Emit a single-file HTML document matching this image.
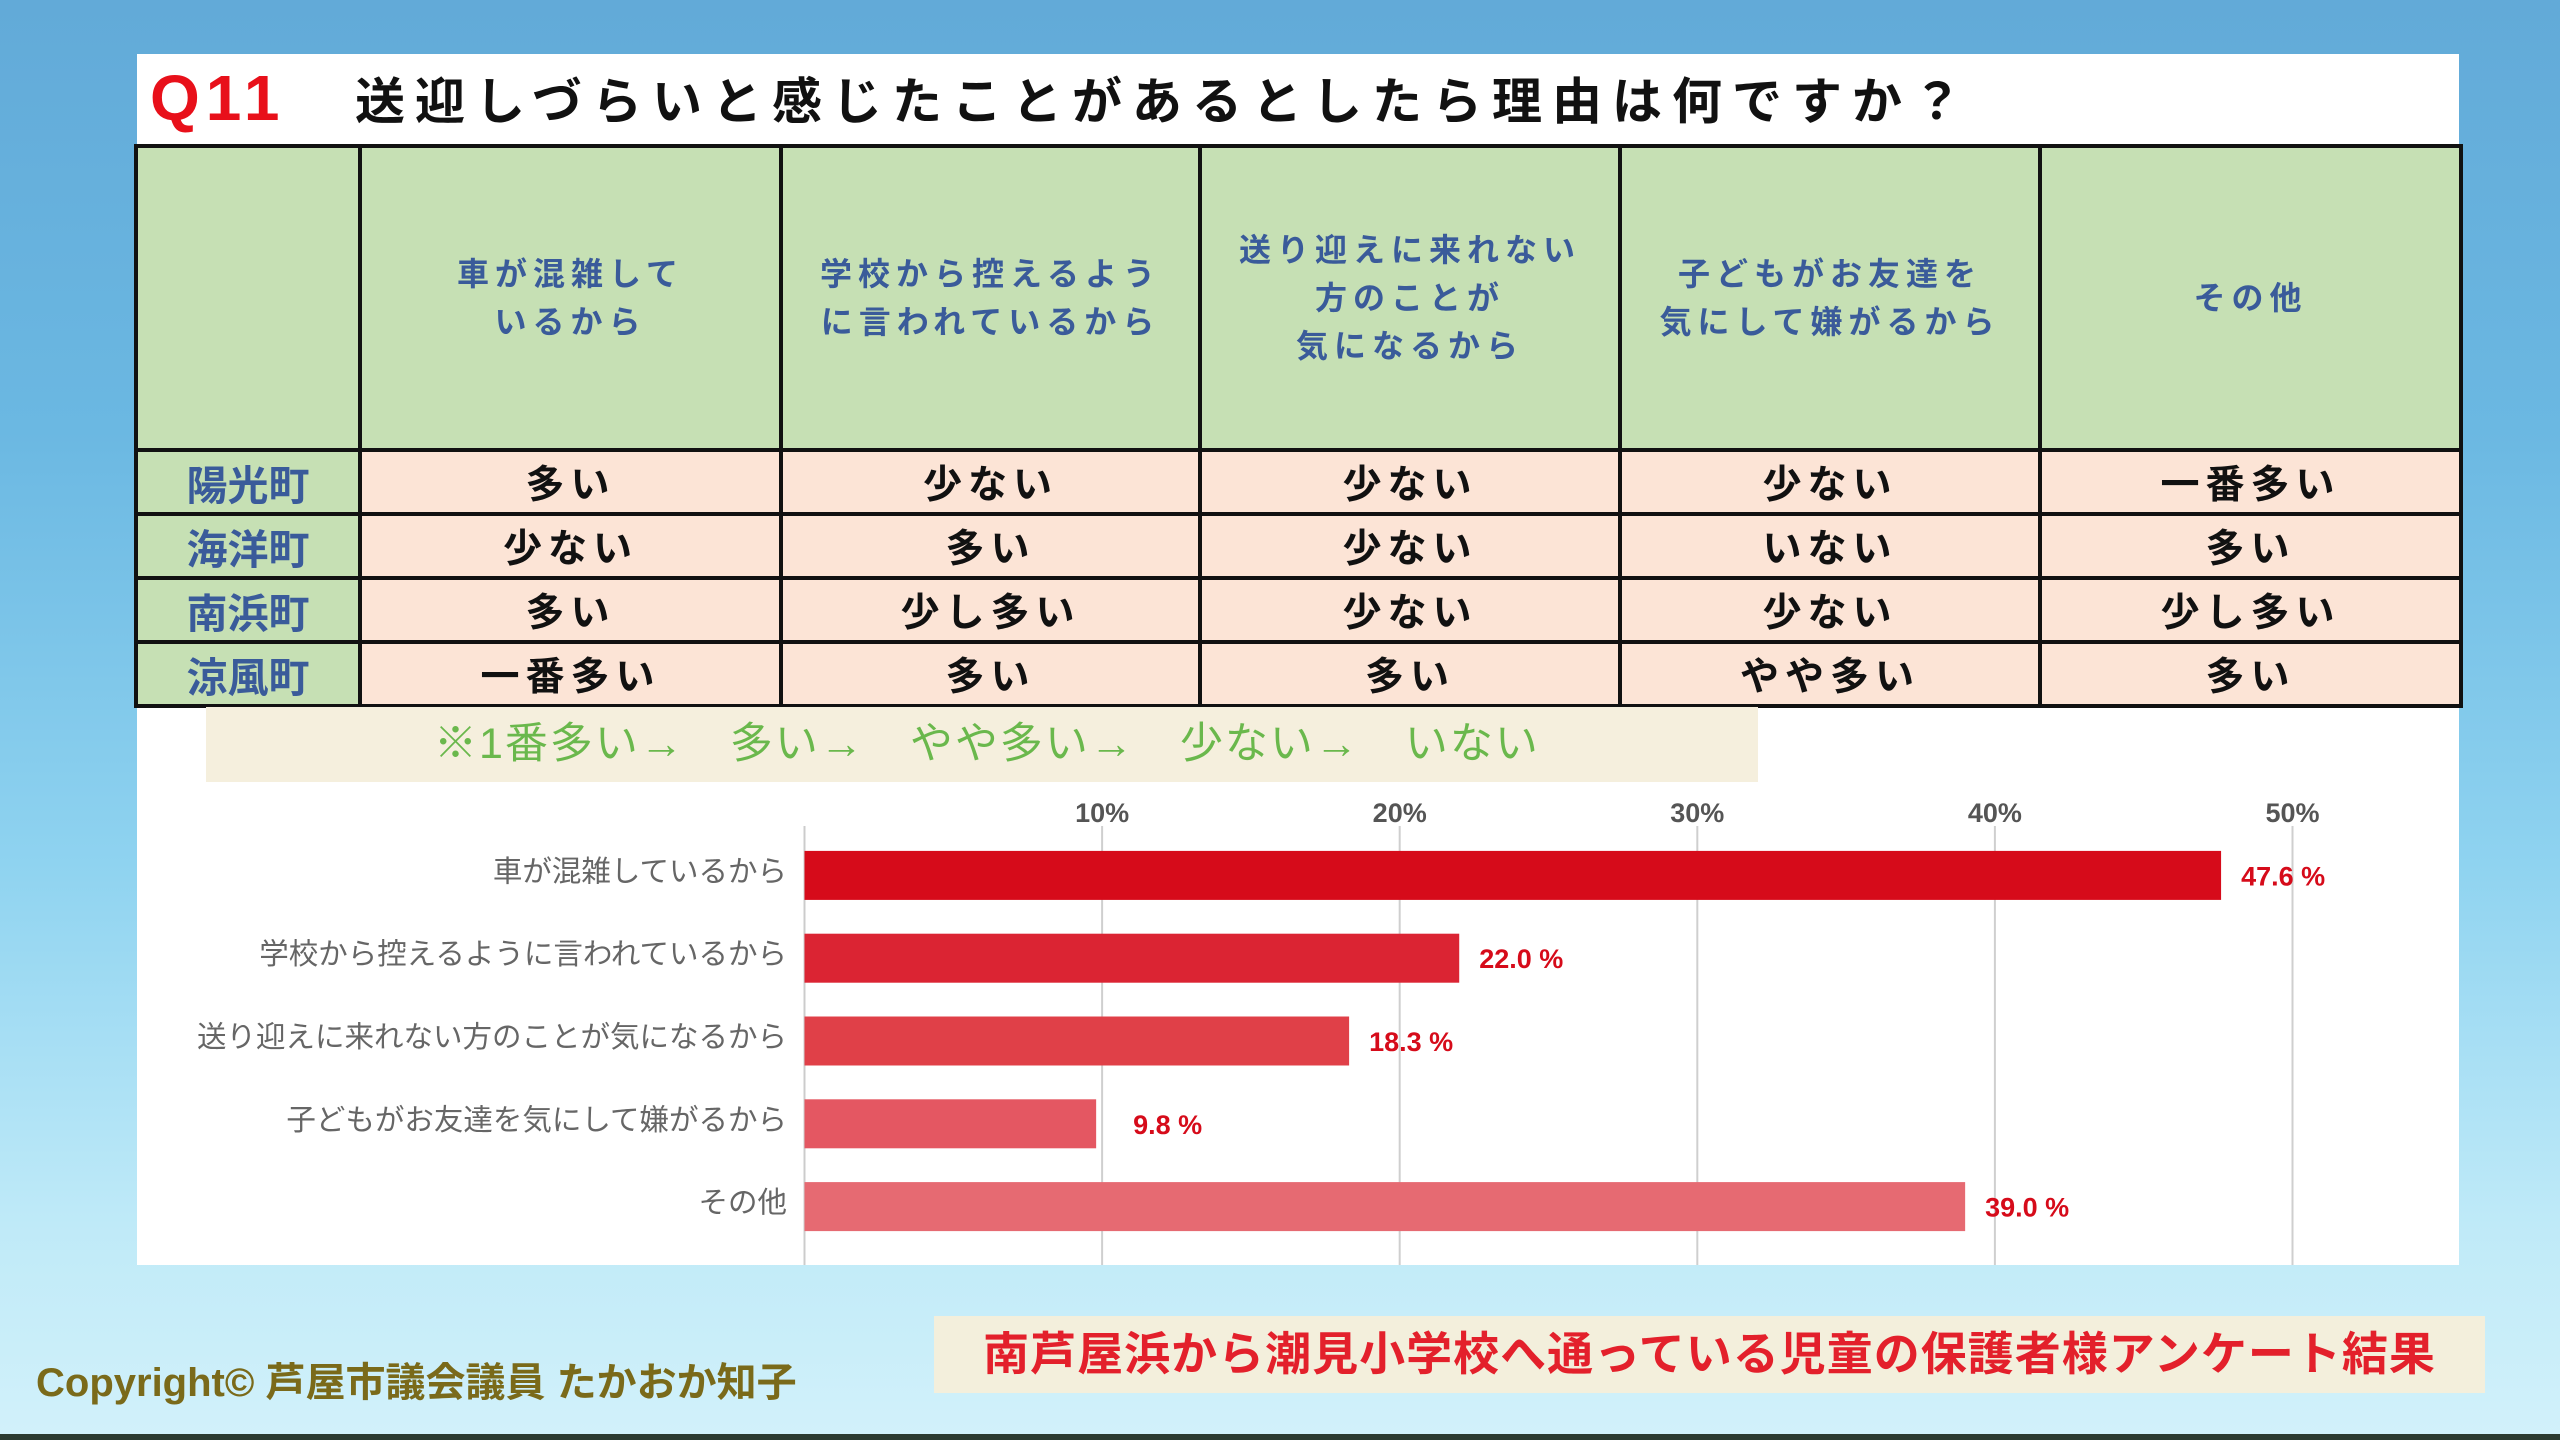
<!DOCTYPE html>
<html><head><meta charset="utf-8">
<style>
html,body{margin:0;padding:0}
body{width:2560px;height:1440px;position:relative;overflow:hidden;
background:linear-gradient(180deg,#62aad8 0%,#6bb8e2 30%,#8fd3f0 60%,#bfeaf8 85%,#d2f1fa 100%);
font-family:"Liberation Sans","Noto Sans CJK JP",sans-serif}
.abs{position:absolute}
#panel{left:137px;top:54px;width:2322px;height:1211px;background:#fff}
#q{left:150px;top:62px;font-size:64px;font-weight:bold;color:#e8101a;letter-spacing:6px;line-height:72px}
#title{left:355px;top:70px;font-size:50px;font-weight:bold;color:#111;letter-spacing:10px;line-height:64px}
table{position:absolute;left:134px;top:144px;border-collapse:collapse;table-layout:fixed}
td{border:4px solid #111;text-align:center;padding:0;font-weight:bold}
.h{background:#c6e0b4;color:#3a5b9a;font-size:32px;line-height:48px;letter-spacing:6px;height:300px}
.r{background:#c6e0b4;color:#3a5b9a;font-size:41px;height:55px}
.c{background:#fce4d6;color:#111;font-size:39px;letter-spacing:6px}
#legend{left:206px;top:707px;width:1552px;height:75px;background:#f5efdd;color:#6ab84c;font-size:43px;line-height:75px;text-indent:228px;letter-spacing:2px}
#copy{left:36px;top:1350px;font-size:40px;font-weight:bold;color:#7a6a1a}
#banner{left:934px;top:1316px;width:1551px;height:77px;background:#f3efdc;color:#e3202b;font-size:46px;font-weight:bold;text-align:center;line-height:77px;letter-spacing:1px}
#bottom{left:0;top:1434px;width:2560px;height:6px;background:#2b3a30}
</style></head><body>
<div id="panel" class="abs"></div>
<div id="q" class="abs">Q11</div>
<div id="title" class="abs">送迎しづらいと感じたことがあるとしたら理由は何ですか？</div>
<table>
<colgroup><col style="width:224px"><col style="width:421px"><col style="width:419px"><col style="width:420px"><col style="width:420px"><col style="width:421px"></colgroup>
<tr>
<td class="h"></td>
<td class="h">車が混雑して<br>いるから</td>
<td class="h">学校から控えるよう<br>に言われているから</td>
<td class="h">送り迎えに来れない<br>方のことが<br>気になるから</td>
<td class="h">子どもがお友達を<br>気にして嫌がるから</td>
<td class="h">その他</td></tr>
<tr><td class="r">陽光町</td><td class="c">多い</td><td class="c">少ない</td><td class="c">少ない</td><td class="c">少ない</td><td class="c">一番多い</td></tr>
<tr><td class="r" style="height:56px">海洋町</td><td class="c">少ない</td><td class="c">多い</td><td class="c">少ない</td><td class="c">いない</td><td class="c">多い</td></tr>
<tr><td class="r" style="height:57px">南浜町</td><td class="c">多い</td><td class="c">少し多い</td><td class="c">少ない</td><td class="c">少ない</td><td class="c">少し多い</td></tr>
<tr><td class="r" style="height:56px">涼風町</td><td class="c">一番多い</td><td class="c">多い</td><td class="c">多い</td><td class="c">やや多い</td><td class="c">多い</td></tr>
</table>
<div id="legend" class="abs">※1番多い→　多い→　やや多い→　少ない→　いない</div>
<svg id="chart" class="abs" style="left:0;top:0" width="2560" height="1440"></svg>
<div id="copy" class="abs">Copyright© 芦屋市議会議員 たかおか知子</div>
<div id="banner" class="abs">南芦屋浜から潮見小学校へ通っている児童の保護者様アンケート結果</div>
<div id="bottom" class="abs"></div>
<script>
const categories=["車が混雑しているから","学校から控えるように言われているから","送り迎えに来れない方のことが気になるから","子どもがお友達を気にして嫌がるから","その他"];
const values=[47.6,22.0,18.3,9.8,39.0];
const ticks=[10,20,30,40,50];
const colors=["#d60b1a","#db2433","#e04048","#e45762","#e66a72"];
const NS="http://www.w3.org/2000/svg";
const svg=document.getElementById('chart');
const x0=804.5,pxPer=29.76,top0=834,bandH=82.8,barH=49,bottom=1265;
const xs=v=>x0+v*pxPer;
const yc=i=>top0+bandH*(i+0.5);
function mk(t,a){const e=document.createElementNS(NS,t);for(const k in a)e.setAttribute(k,a[k]);svg.appendChild(e);return e;}
let ax=mk('line',{x1:x0,y1:top0-8,x2:x0,y2:bottom,stroke:'#ccc','stroke-width':2});


ticks.forEach(t=>{
  let g=mk('line',{x1:xs(t),y1:top0-8,x2:xs(t),y2:bottom,stroke:'#cfcfcf','stroke-width':2});
  
  
  let l=mk('text',{x:xs(t),y:822,'text-anchor':'middle','font-size':27,'font-weight':'bold',fill:'#555'});
  l.textContent=t+'%';
  
  
});
categories.forEach((c,i)=>{
  let r=mk('rect',{x:x0,y:yc(i)-barH/2,width:xs(values[i])-x0,height:barH,fill:colors[i]});
  
  
  let cl=mk('text',{x:787,y:yc(i)+6,'text-anchor':'end','font-size':29.5,fill:'#666','font-family':'"Liberation Sans","Noto Sans CJK JP",sans-serif'});
  cl.textContent=c;
  
  
  let vl=mk('text',{x:xs(values[i])+(values[i]<12?37:20),y:yc(i)+10,'font-size':27,'font-weight':'bold',fill:'#d60b1a'});
  vl.textContent=values[i].toFixed(1)+' %';
  
  
});
</script>
</body></html>
